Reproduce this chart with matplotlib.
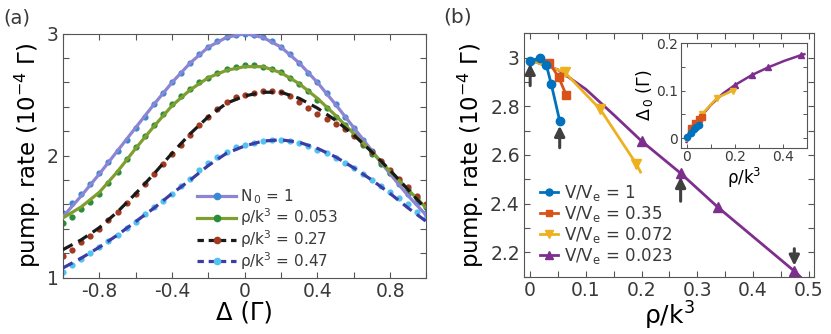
import matplotlib
matplotlib.use("Agg")
import matplotlib.pyplot as plt
from matplotlib.lines import Line2D

plt.rcParams["font.family"] = ["DejaVu Sans"]
plt.rcParams["mathtext.fontset"] = "dejavusans"
plt.rcParams["text.color"] = "#3a3a3a"
plt.rcParams["axes.edgecolor"] = "#555555"
plt.rcParams["xtick.color"] = "#555555"
plt.rcParams["ytick.color"] = "#555555"
plt.rcParams["xtick.labelcolor"] = "#3a3a3a"
plt.rcParams["ytick.labelcolor"] = "#3a3a3a"

# ---------------- panel (a) data ----------------
detuning = [-1.00, -0.95, -0.90, -0.85, -0.80, -0.75, -0.70, -0.65, -0.60, -0.55,
            -0.50, -0.45, -0.40, -0.35, -0.30, -0.25, -0.20, -0.15, -0.10, -0.05,
            0.00, 0.05, 0.10, 0.15, 0.20, 0.25, 0.30, 0.35, 0.40, 0.45,
            0.50, 0.55, 0.60, 0.65, 0.70, 0.75, 0.80, 0.85, 0.90, 0.95, 1.00]
dots_n0 = [1.53, 1.61, 1.69, 1.77, 1.86, 1.95, 2.04, 2.13, 2.23, 2.32,
           2.42, 2.51, 2.60, 2.68, 2.76, 2.83, 2.89, 2.94, 2.97, 2.99,
           3.00, 2.99, 2.97, 2.94, 2.89, 2.83, 2.76, 2.68, 2.60, 2.51,
           2.42, 2.32, 2.23, 2.13, 2.04, 1.95, 1.86, 1.77, 1.69, 1.61, 1.53]
dots_053 = [1.45, 1.50, 1.56, 1.62, 1.69, 1.78, 1.87, 1.97, 2.07, 2.16,
            2.25, 2.34, 2.42, 2.49, 2.55, 2.60, 2.64, 2.68, 2.71, 2.73,
            2.74, 2.74, 2.73, 2.71, 2.69, 2.64, 2.59, 2.53, 2.46, 2.39,
            2.32, 2.25, 2.17, 2.09, 2.01, 1.93, 1.86, 1.79, 1.72, 1.65, 1.58]
dots_027 = [1.18, 1.23, 1.29, 1.34, 1.40, 1.47, 1.54, 1.61, 1.69, 1.77,
            1.85, 1.93, 2.01, 2.09, 2.17, 2.25, 2.32, 2.38, 2.44, 2.48,
            2.50, 2.51, 2.53, 2.53, 2.52, 2.49, 2.44, 2.39, 2.34, 2.30,
            2.26, 2.22, 2.16, 2.10, 2.03, 1.96, 1.88, 1.81, 1.74, 1.67, 1.60]
dots_047 = [1.05, 1.10, 1.15, 1.20, 1.25, 1.30, 1.35, 1.41, 1.46, 1.52,
            1.58, 1.63, 1.69, 1.75, 1.81, 1.88, 1.94, 1.99, 2.03, 2.07,
            2.09, 2.10, 2.12, 2.13, 2.13, 2.12, 2.10, 2.08, 2.05, 2.02,
            1.98, 1.94, 1.90, 1.85, 1.80, 1.75, 1.70, 1.65, 1.60, 1.54, 1.49]

detuning_fit = [-1.0, -0.9, -0.8, -0.7, -0.6, -0.5, -0.4, -0.3, -0.2, -0.1, 0.0,
                0.1, 0.2, 0.3, 0.4, 0.5, 0.6, 0.7, 0.8, 0.9, 1.0]
fit_n0 = [1.50, 1.67, 1.85, 2.04, 2.23, 2.42, 2.60, 2.76, 2.89, 2.97, 3.00,
          2.97, 2.89, 2.76, 2.60, 2.42, 2.23, 2.04, 1.85, 1.67, 1.51]
fit_053 = [1.49, 1.58, 1.70, 1.87, 2.06, 2.24, 2.41, 2.54, 2.64, 2.70, 2.73,
           2.73, 2.68, 2.59, 2.47, 2.33, 2.18, 2.03, 1.87, 1.72, 1.57]
fit_027 = [1.23, 1.31, 1.41, 1.54, 1.69, 1.85, 2.02, 2.18, 2.32, 2.43, 2.49,
           2.52, 2.52, 2.47, 2.39, 2.29, 2.17, 2.03, 1.88, 1.72, 1.56]
fit_047 = [1.08, 1.16, 1.25, 1.35, 1.46, 1.57, 1.69, 1.80, 1.92, 2.02, 2.08,
           2.12, 2.13, 2.11, 2.06, 1.99, 1.90, 1.80, 1.69, 1.57, 1.46]

labels_a = [r"N$_{\,0}$ = 1", r"ρ/k$^3$ = 0.053", r"ρ/k$^3$ = 0.27", r"ρ/k$^3$ = 0.47"]

# ---------------- panel (b) data ----------------
rho_v1 = [0.0, 0.018, 0.029, 0.038, 0.053]
rate_v1 = [2.985, 3.0, 2.97, 2.89, 2.74]
shift_v1 = [0.003, 0.012, 0.019, 0.024, 0.028]

rho_v035 = [0.0, 0.017, 0.034, 0.051, 0.065]
rate_v035 = [2.99, 2.99, 2.98, 2.92, 2.845]
shift_v035 = [0.0, 0.022, 0.032, 0.040, 0.045]

rho_v072 = [0.0, 0.062, 0.126, 0.19, 0.198]
rate_v072 = [2.99, 2.94, 2.787, 2.565, 2.53]
shift_v072 = [-0.005, 0.05, 0.085, 0.10, 0.102]

rho_v023 = [0.0, 0.05, 0.1, 0.15, 0.2, 0.27, 0.337, 0.405, 0.474, 0.488]
rate_v023 = [2.99, 2.95, 2.87, 2.765, 2.657, 2.525, 2.385, 2.255, 2.123, 2.092]
shift_v023 = [-0.008, 0.04, 0.07, 0.094, 0.112, 0.133, 0.149, 0.163, 0.175, 0.177]

labels_b = [r"V/V$_\mathrm{e}$ = 1", r"V/V$_\mathrm{e}$ = 0.35",
            r"V/V$_\mathrm{e}$ = 0.072", r"V/V$_\mathrm{e}$ = 0.023"]

# arrows: (rho, tail, head)
arrows = [(0.0, 2.885, 2.975), (0.053, 2.63, 2.72), (0.27, 2.41, 2.51), (0.474, 2.215, 2.145)]

fig = plt.figure(figsize=(8.31, 3.34), dpi=100)

# ================= (a) =================
ax = fig.add_axes([0.0758, 0.1686, 0.4374, 0.7305])
dot_cols = ["#3a8ad0", "#2a8c3c", "#a23a22", "#52c2f0"]
fit_cols = ["#8c84d4", "#7f9e30", "#1a1a1a", "#3c3ca6"]
fit_styles = ["-", "-", "--", "--"]
dots_all = [dots_n0, dots_053, dots_027, dots_047]
fits_all = [fit_n0, fit_053, fit_027, fit_047]

for d, c in zip(dots_all, dot_cols):
    ax.plot(detuning, d, "o", color=c, ms=4.5, mec="none", zorder=2)
for f, c, ls in zip(fits_all, fit_cols, fit_styles):
    line, = ax.plot(detuning_fit, f, ls, color=c, lw=2.3, zorder=3)
    if ls == "--":
        line.set_dashes((3.4, 2.0))

handles = []
for c_line, c_dot, ls in zip(fit_cols, dot_cols, fit_styles):
    h = Line2D([], [], color=c_line, lw=2.3, ls=ls, marker="o", ms=4.5,
               mfc=c_dot, mec=c_dot)
    if ls == "--":
        h.set_dashes((2.0, 1.5))
    handles.append(h)
ax.legend(handles, labels_a, loc="lower left", bbox_to_anchor=(0.37, 0.025),
          frameon=False, fontsize=11, handlelength=2.5, handletextpad=0.3,
          labelspacing=0.0, borderpad=0, borderaxespad=0)

ax.set_xlim(-1, 1)
ax.set_ylim(1, 3)
ax.set_xticks([-0.8, -0.4, 0, 0.4, 0.8])
ax.set_xticklabels(["-0.8", "-0.4", "0", "0.4", "0.8"])
ax.set_xticks([-1.0, -0.6, -0.2, 0.2, 0.6, 1.0], minor=True)
ax.set_yticks([1, 2, 3])
ax.set_yticks([1.2, 1.4, 1.6, 1.8, 2.2, 2.4, 2.6, 2.8], minor=True)
ax.tick_params(which="both", direction="in", top=True, right=True, labelsize=13.5,
               length=4, width=0.8, pad=3)
ax.set_xlabel("Δ (Γ)", fontsize=17.5, labelpad=0)
ax.set_ylabel(r"pump. rate (10$^{-4}$ Γ)", fontsize=16.5, labelpad=3)
fig.text(0.004, 0.945, "(a)", fontsize=14, va="center", ha="left")

# ================= (b) =================
bx = fig.add_axes([0.6306, 0.1716, 0.3494, 0.7287])
c1, c2, c3, c4 = "#0072BD", "#D95319", "#EDB120", "#7E2F8E"
bx.plot(rho_v023, rate_v023, "-^", color=c4, lw=2.0, ms=7, markevery=[4, 5, 6, 8], zorder=2)
bx.plot(rho_v072, rate_v072, "-v", color=c3, lw=2.0, ms=7, markevery=[1, 2, 3], zorder=3)
bx.plot(rho_v035, rate_v035, "-s", color=c2, lw=2.0, ms=5.5, markevery=[2, 3, 4], zorder=4)
bx.plot(rho_v1, rate_v1, "-o", color=c1, lw=2.0, ms=6, zorder=5)

for x, tail, head in arrows:
    bx.annotate("", xy=(x, head), xytext=(x, tail),
                arrowprops=dict(arrowstyle="-|>", color="#404040", lw=2.2,
                                mutation_scale=15, shrinkA=0, shrinkB=0), zorder=6)

hb = [Line2D([], [], color=c, lw=2.0, marker=m, ms=ms)
      for c, m, ms in zip([c1, c2, c3, c4], ["o", "s", "v", "^"], [5, 4.5, 5.5, 5.5])]
bx.legend(hb, labels_b, loc="lower left", bbox_to_anchor=(0.055, 0.045), frameon=False,
          fontsize=12, handlelength=1.1, handletextpad=0.35, labelspacing=0.05,
          borderpad=0, borderaxespad=0)

bx.set_xlim(-0.011, 0.51)
bx.set_ylim(2.1, 3.1)
bx.set_xticks([0, 0.1, 0.2, 0.3, 0.4, 0.5])
bx.set_xticklabels(["0", "0.1", "0.2", "0.3", "0.4", "0.5"])
bx.set_xticks([0.05, 0.15, 0.25, 0.35, 0.45], minor=True)
bx.set_yticks([2.2, 2.4, 2.6, 2.8, 3.0])
bx.set_yticklabels(["2.2", "2.4", "2.6", "2.8", "3"])
bx.set_yticks([2.1, 2.3, 2.5, 2.7, 2.9, 3.1], minor=True)
bx.tick_params(which="both", direction="in", top=True, right=True, labelsize=13.5,
               length=4, width=0.8, pad=3)
bx.set_xlabel(r"ρ/k$^3$", fontsize=18, labelpad=0)
bx.set_ylabel(r"pump. rate (10$^{-4}$ Γ)", fontsize=16.5, labelpad=3)
fig.text(0.533, 0.948, "(b)", fontsize=14.5, va="center", ha="left")

# ---------------- inset ----------------
ix = fig.add_axes([0.8191, 0.5578, 0.1523, 0.3126])
ix.plot(rho_v023, shift_v023, "-^", color=c4, lw=1.8, ms=5, markevery=[4, 5, 6, 8])
ix.plot(rho_v072, shift_v072, "-v", color=c3, lw=1.8, ms=5, markevery=[1, 2, 3])
ix.plot(rho_v035, shift_v035, "-s", color=c2, lw=1.8, ms=4.5, markevery=[1, 2, 3, 4])
ix.plot(rho_v1, shift_v1, "-o", color=c1, lw=1.8, ms=4.5)
ix.set_xlim(-0.025, 0.5)
ix.set_ylim(-0.02, 0.2)
ix.set_xticks([0, 0.2, 0.4])
ix.set_xticklabels(["0", "0.2", "0.4"])
ix.set_xticks([0.1, 0.3], minor=True)
ix.set_yticks([0, 0.1, 0.2])
ix.set_yticklabels(["0", "0.1", "0.2"])
ix.set_yticks([0.05, 0.15], minor=True)
ix.tick_params(which="both", direction="in", top=True, right=True, labelsize=10,
               length=3, width=0.7, pad=2)
ix.set_xlabel(r"ρ/k$^3$", fontsize=12, labelpad=1)
ix.set_ylabel(r"Δ$_{\,0}$ (Γ)", fontsize=12.5, labelpad=1)
for s in ix.spines.values():
    s.set_linewidth(0.8)

fig.savefig("out.png", dpi=100)
